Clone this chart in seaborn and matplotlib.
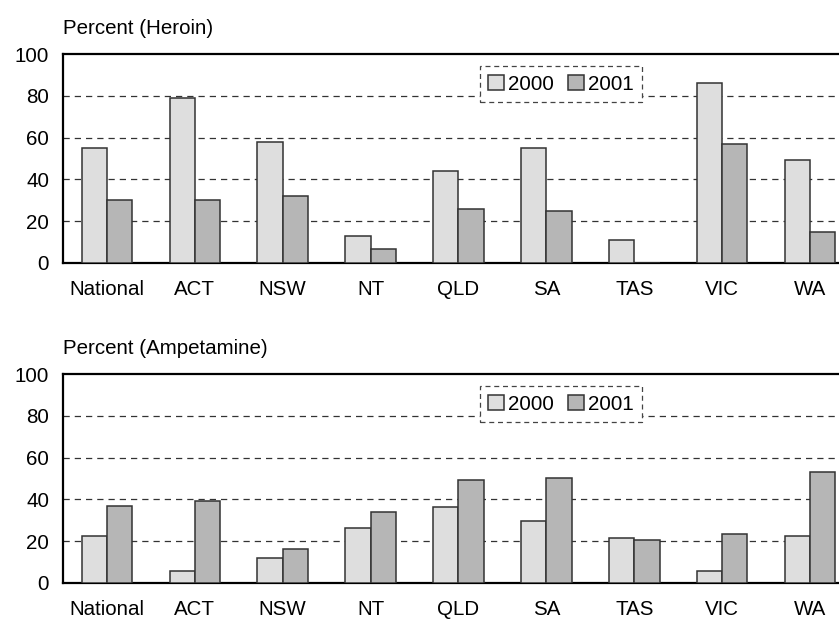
import matplotlib
matplotlib.use("Agg")
import matplotlib.pyplot as plt
import seaborn as sns
import pandas as pd

states = ["National", "ACT", "NSW", "NT", "QLD", "SA", "TAS", "VIC", "WA"]
years = ["2000", "2001"]
heroin_2000 = [55, 79, 58, 13, 44, 55, 11, 86, 49.5]
heroin_2001 = [30, 30, 32, 6.5, 26, 25, 0, 57, 15]
amph_2000 = [22.7, 5.9, 11.8, 26.2, 36.6, 29.6, 21.7, 5.9, 22.4]
amph_2001 = [37, 39.1, 16.1, 34, 49.4, 50.3, 20.4, 23.6, 52.9]
yticks = [0, 20, 40, 60, 80, 100]

sns.set_style("white")
plt.rcParams["font.family"] = ["Liberation Sans", "DejaVu Sans"]
plt.rcParams["text.color"] = "black"
FS = 14.8
plt.rcParams["font.size"] = FS

colors = {"2000": "#dedede", "2001": "#b6b6b6"}


def make_df(v0, v1):
    rows = []
    for s, a, b in zip(states, v0, v1):
        rows.append({"state": s, "year": "2000", "value": a})
        rows.append({"state": s, "year": "2001", "value": b})
    return pd.DataFrame(rows)


W, H = 839, 620
fig = plt.figure(figsize=(W / 100, H / 100), dpi=100)

panels = [
    ("Percent (Heroin)", heroin_2000, heroin_2001, 263),
    ("Percent (Ampetamine)", amph_2000, amph_2001, 583),
]

for title, v0, v1, ybot in panels:
    ax = fig.add_axes([63 / W, 1 - ybot / H, (W - 63) / W, 209 / H])
    df = make_df(v0, v1)
    sns.barplot(data=df, x="state", y="value", hue="year", order=states,
                hue_order=years, palette=colors, width=0.575,
                edgecolor="#333333", linewidth=1.1, saturation=1,
                ax=ax, zorder=3)
    ax.set_ylim(0, 100)
    ax.set_xlim(-0.5, 8.5 - 15 / 88)
    ax.set_yticks(yticks)
    ax.set_xlabel("")
    ax.set_ylabel("")
    for y in [20, 40, 60, 80]:
        ax.axhline(y, color="#333333", lw=0.9, ls=(0, (5, 4)), zorder=1)
    ax.tick_params(axis="both", length=0, labelsize=FS, colors="black")
    ax.tick_params(axis="y", pad=10)
    ax.tick_params(axis="x", pad=12)
    for side in ["top", "left", "bottom"]:
        ax.spines[side].set_visible(True)
        ax.spines[side].set_linewidth(1.6)
        ax.spines[side].set_color("black")
    ax.spines["right"].set_visible(False)
    ax.text(0, 1 + 26 / 209, title, transform=ax.transAxes, ha="left",
            va="center", fontsize=FS, color="black")
    handles, labels = ax.get_legend_handles_labels()
    leg = ax.legend(handles, labels, loc="center",
                    bbox_to_anchor=((561 - 63) / (W - 63), 0.856),
                    ncol=2, frameon=True, fancybox=False, fontsize=FS,
                    handlelength=0.75, handleheight=0.75, handletextpad=0.2,
                    columnspacing=0.7, borderpad=0.4, framealpha=1,
                    labelcolor="black")
    fr = leg.get_frame()
    fr.set_linestyle((0, (4, 3)))
    fr.set_edgecolor("#444444")
    fr.set_linewidth(0.9)
    leg.set_zorder(5)

fig.savefig("out.png", dpi=100)
